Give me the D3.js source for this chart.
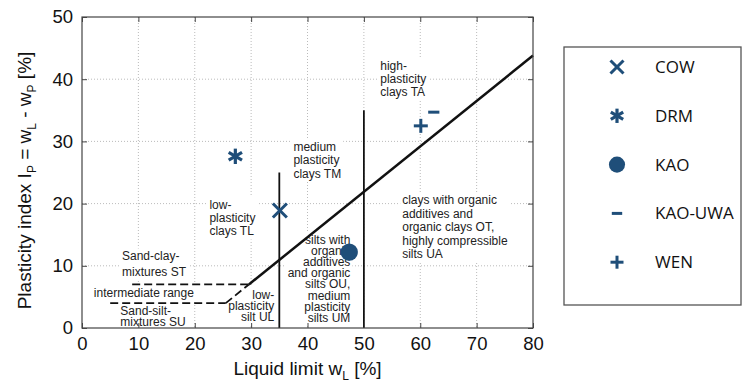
<!DOCTYPE html>
<html>
<head>
<meta charset="utf-8">
<script src="https://cdn.jsdelivr.net/npm/d3@7"></script>
<style>
  body { margin: 0; background: #fff; }
  svg { display: block; }
  .tick text { font-family: "Liberation Sans", Arial, sans-serif; }
  .note { font-family: "Liberation Sans", Arial, sans-serif; font-size: 12px; fill: #222; }
</style>
</head>
<body>
<svg id="chart" width="742" height="383"></svg>
<script>
// sample points
var samples = ["COW", "DRM", "KAO", "KAO-UWA", "WEN"];
var symbols = ["cross", "star", "dot", "minus", "plus"];
var liquidLimit = [35.1, 27.2, 47.4, 62.4, 60.1];
var plasticityIdx = [18.9, 27.6, 12.2, 34.7, 32.5];

var xTicks = [0, 10, 20, 30, 40, 50, 60, 70, 80];
var yTicks = [0, 10, 20, 30, 40, 50];

// chart boundary lines (wL, Ip)
var aLine = [[29.6, 7], [80, 43.8]];
var aLineDashed = [[25.5, 4], [29.6, 7]];
var stLine = [[8.9, 7], [29.6, 7]];
var suLine = [[5, 4], [25.5, 4]];
var verticals = [[35, 25], [50, 35]];

// zone labels: lines, wL, Ip of first line, anchor, line step
var notes = [
  {lines: ["high-", "plasticity", "clays TA"], x: 52.9, y: 42.2, anchor: "start", step: 13.3},
  {lines: ["medium", "plasticity", "clays TM"], x: 37.5, y: 29.1, anchor: "start", step: 13.3},
  {lines: ["low-", "plasticity", "clays TL"], x: 22.6, y: 19.8, anchor: "start", step: 13.3},
  {lines: ["clays with organic", "additives and", "organic clays OT,", "highly compressible", "silts UA"], x: 56.8, y: 20.5, anchor: "start", step: 13.4},
  {lines: ["silts with", "organic", "additives", "and organic", "silts OU,", "medium", "plasticity", "silts UM"], x: 47.6, y: 14.2, anchor: "end", step: 11.2},
  {lines: ["low-", "plasticity", "silt UL"], x: 34.1, y: 5.3, anchor: "end", step: 11.2},
  {lines: ["Sand-clay-", "mixtures ST"], x: 7.1, y: 11.5, anchor: "start", step: 15.6},
  {lines: ["intermediate range"], x: 2.1, y: 5.6, anchor: "start", step: 13},
  {lines: ["Sand-silt-", "mixtures SU"], x: 6.8, y: 2.8, anchor: "start", step: 11}
];

var markColor = "#1f4e79";

var svg = d3.select("#chart");
var margin = {top: 17, right: 209, bottom: 55, left: 82};
var w = 742 - margin.left - margin.right;
var h = 383 - margin.top - margin.bottom;

var x = d3.scaleLinear().domain([0, 80]).range([0, w]);
var y = d3.scaleLinear().domain([0, 50]).range([h, 0]);

var g = svg.append("g")
    .attr("transform", "translate(" + margin.left + "," + margin.top + ")");

// dotted grid
g.append("g").selectAll("line").data(xTicks.slice(1, -1)).enter().append("line")
    .attr("x1", function(d) { return x(d); }).attr("x2", function(d) { return x(d); })
    .attr("y1", 0).attr("y2", h)
    .attr("stroke", "#aaa").attr("stroke-width", 0.8).attr("stroke-dasharray", "1,2");
g.append("g").selectAll("line").data(yTicks.slice(1, -1)).enter().append("line")
    .attr("y1", function(d) { return y(d); }).attr("y2", function(d) { return y(d); })
    .attr("x1", 0).attr("x2", w)
    .attr("stroke", "#aaa").attr("stroke-width", 0.8).attr("stroke-dasharray", "1,2");

// zone labels with white backing
var noteG = g.append("g");
notes.forEach(function(n) {
  var grp = noteG.append("g");
  var t = grp.append("text").attr("class", "note")
      .attr("text-anchor", n.anchor)
      .attr("dominant-baseline", "central");
  n.lines.forEach(function(l, i) {
    t.append("tspan").attr("x", x(n.x)).attr("y", y(n.y) + i * n.step).text(l);
  });
  var bb = t.node().getBBox();
  grp.insert("rect", "text")
      .attr("x", bb.x - 2).attr("y", bb.y - 1)
      .attr("width", bb.width + 4).attr("height", bb.height + 2)
      .attr("fill", "#fff");
});

// boundary lines
var line = d3.line().x(function(d) { return x(d[0]); }).y(function(d) { return y(d[1]); });
g.append("path").attr("d", line(aLine)).attr("fill", "none").attr("stroke", "#111").attr("stroke-width", 2.5);
[aLineDashed, stLine, suLine].forEach(function(seg) {
  g.append("path").attr("d", line(seg)).attr("fill", "none")
      .attr("stroke", "#111").attr("stroke-width", 1.8).attr("stroke-dasharray", "8,4");
});
g.selectAll(".vline").data(verticals).enter().append("line")
    .attr("class", "vline")
    .attr("x1", function(d) { return x(d[0]); }).attr("x2", function(d) { return x(d[0]); })
    .attr("y1", y(0)).attr("y2", function(d) { return y(d[1]); })
    .attr("stroke", "#111").attr("stroke-width", 1.8);

// frame and axes with inward ticks
g.append("rect").attr("width", w).attr("height", h)
    .attr("fill", "none").attr("stroke", "#444").attr("stroke-width", 1.2);

g.append("g").attr("transform", "translate(0," + h + ")")
    .call(d3.axisBottom(x).tickValues(xTicks).tickSizeInner(-5).tickSizeOuter(0).tickPadding(9))
    .call(function(a) { a.select(".domain").remove(); })
    .selectAll("text").attr("font-size", 18.5).attr("fill", "#111");
g.append("g")
    .call(d3.axisLeft(y).tickValues(yTicks).tickSizeInner(-5).tickSizeOuter(0).tickPadding(9))
    .call(function(a) { a.select(".domain").remove(); })
    .selectAll("text").attr("font-size", 18.5).attr("fill", "#111");
g.append("g").attr("transform", "translate(" + w + ",0)")
    .call(d3.axisRight(y).tickValues(yTicks).tickSizeInner(-5).tickSizeOuter(0).tickFormat(""))
    .call(function(a) { a.select(".domain").remove(); });
g.append("g")
    .call(d3.axisTop(x).tickValues(xTicks).tickSizeInner(-5).tickSizeOuter(0).tickFormat(""))
    .call(function(a) { a.select(".domain").remove(); });
g.selectAll(".tick line").attr("stroke", "#444");

// axis titles
var xt = svg.append("text")
    .attr("x", margin.left + w / 2).attr("y", 375)
    .attr("text-anchor", "middle")
    .attr("font-family", "Liberation Sans, Arial, sans-serif")
    .attr("font-size", 19).attr("fill", "#111");
xt.append("tspan").text("Liquid limit w");
xt.append("tspan").attr("font-size", 12).attr("dy", 5).text("L");
xt.append("tspan").attr("dy", -5).text(" [%]");

var yt = svg.append("text")
    .attr("transform", "translate(31," + (margin.top + h / 2 + 8) + ") rotate(-90)")
    .attr("text-anchor", "middle")
    .attr("font-family", "Liberation Sans, Arial, sans-serif")
    .attr("font-size", 19).attr("fill", "#111");
yt.append("tspan").text("Plasticity index I");
yt.append("tspan").attr("font-size", 12).attr("dy", 5).text("P");
yt.append("tspan").attr("dy", -5).text(" = w");
yt.append("tspan").attr("font-size", 12).attr("dy", 5).text("L");
yt.append("tspan").attr("dy", -5).text(" - w");
yt.append("tspan").attr("font-size", 12).attr("dy", 5).text("P");
yt.append("tspan").attr("dy", -5).text(" [%]");

// marker drawing
function drawMark(sel, kind, s) {
  var sw = 3;
  if (kind === "dot") {
    sel.append("circle").attr("r", s * 0.62).attr("fill", markColor);
    return;
  }
  var segs = [];
  if (kind === "cross") segs = [[-s/2, -s/2, s/2, s/2], [-s/2, s/2, s/2, -s/2]];
  if (kind === "plus") segs = [[-s/2, 0, s/2, 0], [0, -s/2, 0, s/2]];
  if (kind === "minus") segs = [[-s * 0.4, 0, s * 0.4, 0]];
  if (kind === "star") {
    var r = s * 0.55;
    [90, 30, -30].forEach(function(a) {
      var rad = a * Math.PI / 180;
      segs.push([-r * Math.cos(rad), -r * Math.sin(rad), r * Math.cos(rad), r * Math.sin(rad)]);
    });
    sw = 3.2;
  }
  segs.forEach(function(p) {
    sel.append("line").attr("x1", p[0]).attr("y1", p[1]).attr("x2", p[2]).attr("y2", p[3])
        .attr("stroke", markColor).attr("stroke-width", sw);
  });
}

samples.forEach(function(name, i) {
  var mg = g.append("g")
      .attr("transform", "translate(" + x(liquidLimit[i]) + "," + y(plasticityIdx[i]) + ")");
  drawMark(mg, symbols[i], 14);
});

// legend
var lg = svg.append("g").attr("transform", "translate(564,47)");
lg.append("rect").attr("width", 177).attr("height", 258)
    .attr("fill", "#fff").attr("stroke", "#555").attr("stroke-width", 1.3);
samples.forEach(function(name, i) {
  var row = lg.append("g").attr("transform", "translate(53," + (20 + i * 48.8) + ")");
  drawMark(row, symbols[i], 13);
  row.append("text").attr("x", 38).attr("dy", "0.35em")
      .attr("font-family", "Open Sans, sans-serif").attr("font-size", 17)
      .attr("fill", "#111").text(name);
});
</script>
</body>
</html>
